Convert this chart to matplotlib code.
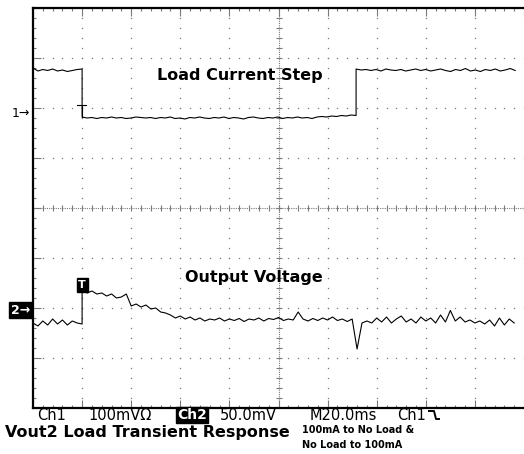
"""
Vout2 load transient response - oscilloscope screen capture redrawn with matplotlib
"""

import numpy as np
import matplotlib
matplotlib.use('Agg')
import matplotlib.pyplot as plt
from matplotlib import rcParams
from matplotlib.lines import Line2D
import matplotlib.transforms as mtransforms

rcParams['font.family'] = ['DejaVu Sans']

W, H = 524, 454
C_GRID = '#7a7a7a'
C_TRACE = '#000000'

# screen is 10 x 8 divisions, right edge of the capture is cut at 9.82 div
X_MAX = 9.82
TRIG_T = 1.0        # trigger position (div)
STEP_UP_T = 6.58    # load re-applied (div)

# Ch1 (load current), screen divisions
ch1_ref = 1.90
ch1_before = [2.80, 2.74, 2.77, 2.75, 2.78, 2.74, 2.76, 2.73, 2.75, 2.77, 2.78]
ch1_noload = [1.82, 1.80, 1.81, 1.79, 1.81, 1.80, 1.82, 1.80, 1.81, 1.79,
              1.80, 1.82, 1.81, 1.80, 1.81, 1.79, 1.81, 1.80, 1.82, 1.79,
              1.80, 1.78, 1.81, 1.80, 1.82, 1.80, 1.79, 1.81, 1.80, 1.82,
              1.79, 1.81, 1.80, 1.78, 1.81, 1.82, 1.80, 1.79, 1.81, 1.80,
              1.82, 1.79, 1.81, 1.80, 1.82, 1.80, 1.81, 1.79, 1.82, 1.83,
              1.82, 1.84, 1.83, 1.85, 1.84, 1.86, 1.85]
ch1_after = [2.78, 2.76, 2.77, 2.75, 2.77, 2.74, 2.78, 2.76, 2.75, 2.77,
             2.74, 2.76, 2.78, 2.75, 2.77, 2.74, 2.76, 2.78, 2.75, 2.73,
             2.77, 2.75, 2.79, 2.74, 2.76, 2.73, 2.77, 2.75, 2.78, 2.74,
             2.76, 2.79, 2.75]

# Ch2 (output voltage), screen divisions
ch2_ref = -2.04
ch2_before = [-2.30, -2.36, -2.26, -2.34, -2.22, -2.32, -2.24, -2.34, -2.26, -2.30, -2.32]
ch2_after = [-1.64, -1.70, -1.66, -1.72, -1.70, -1.76, -1.72, -1.80, -1.78, -1.72,
             -1.96, -1.92, -1.98, -1.94, -2.02, -2.00, -2.08, -2.10, -2.14, -2.20,
             -2.16, -2.22, -2.18, -2.24, -2.20, -2.26, -2.22, -2.24, -2.20, -2.26,
             -2.22, -2.25, -2.21, -2.27, -2.22, -2.24, -2.20, -2.26, -2.21, -2.23,
             -2.19, -2.25, -2.22, -2.24, -2.08, -2.22, -2.26, -2.21, -2.25, -2.20,
             -2.24, -2.18, -2.25, -2.22, -2.27, -2.22, -2.82, -2.30, -2.26, -2.30,
             -2.20, -2.28, -2.18, -2.30, -2.22, -2.16, -2.28, -2.22, -2.30, -2.18,
             -2.26, -2.20, -2.30, -2.14, -2.28, -2.05, -2.26, -2.18, -2.28, -2.24,
             -2.30, -2.26, -2.32, -2.24, -2.36, -2.20, -2.34, -2.22, -2.30]

status_items = ['Ch1', '100mV\u03a9', 'Ch2', '50.0mV', 'M20.0ms', 'Ch1']


def fx(px):
    return px / W


def fy(py):
    return 1 - py / H


def build_ch1():
    t = np.concatenate([np.linspace(0, TRIG_T, len(ch1_before)),
                        np.linspace(TRIG_T, STEP_UP_T, len(ch1_noload)),
                        np.linspace(STEP_UP_T, X_MAX, len(ch1_after))])
    v = np.concatenate([ch1_before, ch1_noload, ch1_after])
    return t, v


def build_ch2():
    t = np.concatenate([np.linspace(0, TRIG_T, len(ch2_before)),
                        np.linspace(TRIG_T, 9.8, len(ch2_after))])
    v = np.concatenate([ch2_before, ch2_after])
    return t, v


def draw_graticule(ax):
    fine = np.arange(0, 10.01, 0.2)
    fine_y = np.arange(-4, 4.01, 0.2)
    # dotted division lines
    for gx in range(1, 10):
        if gx == 5:
            continue
        ax.plot(np.full_like(fine_y, gx), fine_y, 's', ms=0.9, color=C_GRID, mew=0)
    for gy in range(-3, 4):
        if gy == 0:
            continue
        ax.plot(fine, np.full_like(fine, gy), 's', ms=0.9, color=C_GRID, mew=0)
    # centre cross with fine ticks
    ax.axhline(0, color=C_GRID, lw=0.8, ls=(0, (1, 1)))
    ax.axvline(5, color=C_GRID, lw=0.8, ls=(0, (1, 1)))
    ax.plot(fine, np.zeros_like(fine), '|', ms=5, mew=0.8, color=C_GRID)
    ax.plot(np.full_like(fine_y, 5), fine_y, '_', ms=5, mew=0.8, color=C_GRID)

    ax.set_xticks(np.arange(0, 10.01, 1))
    ax.set_xticks(fine, minor=True)
    ax.set_yticks(np.arange(-4, 4.01, 1))
    ax.set_yticks(fine_y, minor=True)
    ax.tick_params(which='both', direction='in', top=True, bottom=True, left=True,
                   right=False, labelbottom=False, labelleft=False, color=C_GRID)
    ax.tick_params(which='major', length=6, width=0.8)
    ax.tick_params(which='minor', length=2.5, width=0.8)


def main():
    fig = plt.figure(figsize=(W / 100, H / 100), dpi=100)
    ax = fig.add_axes([fx(33), fy(408), 1 - fx(33), 400 / H])
    ax.set_xlim(0, X_MAX)
    ax.set_ylim(-4, 4)
    for side in ['left', 'top', 'bottom']:
        ax.spines[side].set_linewidth(1.6)
        ax.spines[side].set_color('black')
    ax.spines['right'].set_visible(False)

    draw_graticule(ax)

    t1, v1 = build_ch1()
    t2, v2 = build_ch2()
    ax.plot(t1, v1, color=C_TRACE, lw=0.8)
    ax.plot(t2, v2, color=C_TRACE, lw=0.8)

    # trigger marks
    ax.plot([TRIG_T - 0.1, TRIG_T + 0.08], [2.06, 2.06], color='black', lw=0.8)
    ax.plot([TRIG_T, TRIG_T], [2.06, 1.82], color='black', lw=0.8)
    ax.text(TRIG_T, -1.54, 'T', color='white', fontsize=8, fontweight='bold',
            ha='center', va='center',
            bbox=dict(boxstyle='square,pad=0.15', fc='black', ec='black'))

    # channel ground markers
    trans = mtransforms.blended_transform_factory(ax.transAxes, ax.transData)
    ax.text(-0.006, ch1_ref, '1\u2192', transform=trans, ha='right', va='center',
            fontsize=9, clip_on=False)
    ax.text(-0.006, ch2_ref, '2\u2192', transform=trans, ha='right', va='center',
            fontsize=9, fontweight='bold', color='white', clip_on=False,
            bbox=dict(boxstyle='square,pad=0.15', fc='black', ec='black'))

    ax.text(4.22, 2.66, 'Load Current Step', ha='center', va='center',
            fontsize=11.5, fontweight='bold')
    ax.text(4.50, -1.38, 'Output Voltage', ha='center', va='center',
            fontsize=11.5, fontweight='bold')

    # scope status line
    xs = [37, 88, 177, 220, 310, 397]
    for label, x in zip(status_items, xs):
        if label == 'Ch2':
            fig.text(fx(x), fy(415), label, fontsize=10, color='white', va='center',
                     fontweight='bold',
                     bbox=dict(boxstyle='square,pad=0.05', fc='black', ec='black'))
        else:
            fig.text(fx(x), fy(415), label, fontsize=10.5, va='center')
    fig.add_artist(Line2D([fx(429), fx(434), fx(436), fx(439)],
                          [fy(411), fy(411), fy(419), fy(419)],
                          color='black', lw=1.4, transform=fig.transFigure))

    fig.text(fx(5), fy(432), 'Vout2 Load Transient Response', fontsize=11.5,
             fontweight='bold', va='center')
    fig.text(fx(302), fy(430), '100mA to No Load &', fontsize=7,
             fontweight='bold', va='center')
    fig.text(fx(302), fy(445), 'No Load to 100mA', fontsize=7,
             fontweight='bold', va='center')

    fig.savefig('out.png', dpi=100)
    plt.close(fig)


if __name__ == '__main__':
    main()
